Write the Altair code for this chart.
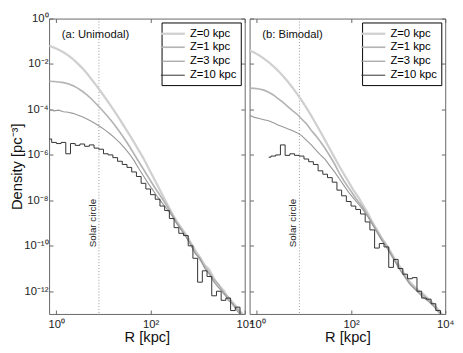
import altair as alt
import pandas as pd

# log10 of bin-centre radius R [kpc]
LOG_R = [-0.15, -0.05, 0.05, 0.15, 0.25, 0.35, 0.45, 0.55, 0.65, 0.75, 0.85, 0.95,
         1.05, 1.15, 1.25, 1.35, 1.45, 1.55, 1.65, 1.75, 1.85, 1.95,
         2.05, 2.15, 2.25, 2.35, 2.45, 2.55, 2.65, 2.75, 2.85, 2.95,
         3.05, 3.15, 3.25, 3.35, 3.45, 3.55, 3.65, 3.75, 3.85, 3.95, 4.05]

SERIES = ["Z=0 kpc", "Z=1 kpc", "Z=3 kpc", "Z=10 kpc"]

# log10 density [pc^-3], panel (a) Unimodal
UNI_Z0 = [-1.20, -1.28, -1.37, -1.48, -1.62, -1.78, -1.97, -2.18, -2.42, -2.68, -2.95, -3.23,
          -3.52, -3.82, -4.13, -4.45, -4.78, -5.11, -5.45, -5.80, -6.15, -6.55,
          -6.95, -7.35, -7.75, -8.15, -8.55, -8.90, -9.20, -9.50, -9.85, -10.20,
          -10.50, -10.85, -11.05, -11.45, -11.75, -11.95, -12.30, -12.50, -12.75, -13.00, -13.25]
UNI_Z1 = [-2.76, -2.77, -2.79, -2.82, -2.87, -2.95, -3.06, -3.20, -3.36, -3.55, -3.76, -3.98,
          -4.21, -4.45, -4.72, -5.00, -5.30, -5.62, -5.96, -6.30, -6.63, -6.97,
          -7.30, -7.62, -7.93, -8.25, -8.60, -8.95, -9.25, -9.55, -9.90, -10.30,
          -10.60, -10.90, -11.20, -11.50, -11.70, -12.10, -12.25, -12.60, -12.80, -13.05, -13.30]
UNI_Z3 = [-4.00, -4.06, -4.03, -4.10, -4.12, -4.17, -4.24, -4.32, -4.42, -4.53, -4.65, -4.78,
          -4.93, -5.09, -5.27, -5.47, -5.70, -5.95, -6.25, -6.60, -6.93, -7.25,
          -7.55, -7.85, -8.12, -8.38, -8.65, -9.00, -9.30, -9.60, -9.95, -10.35,
          -10.55, -11.00, -11.25, -11.60, -11.85, -12.05, -12.40, -12.55, -12.90, -13.10, -13.35]
UNI_Z10 = [-5.30, -5.45, -5.50, -5.45, -5.95, -5.50, -5.58, -5.52, -5.62, -5.56, -5.70, -5.75,
           -5.95, -6.00, -6.12, -6.28, -6.42, -6.55, -6.75, -6.95, -7.25, -7.50,
           -7.75, -7.95, -8.25, -8.45, -8.80, -9.20, -9.45, -9.55, -10.00, -10.55,
           -11.60, -11.10, -11.35, -12.20, -12.00, -12.40, -12.30, -12.85, -12.70, -13.20, -13.40]

# log10 density [pc^-3], panel (b) Bimodal
BI_Z0 = [-1.40, -1.50, -1.62, -1.76, -1.92, -2.10, -2.30, -2.52, -2.76, -3.02, -3.30, -3.60,
         -3.92, -4.26, -4.62, -4.98, -5.36, -5.74, -6.12, -6.50, -6.85, -7.20,
         -7.55, -7.85, -8.20, -8.55, -8.95, -9.30, -9.65, -9.95, -10.30, -10.65,
         -10.95, -11.30, -11.60, -11.80, -12.00, -12.15, -12.35, -12.55, -12.80, -13.05, -13.30]
BI_Z1 = [-3.06, -3.07, -3.10, -3.15, -3.24, -3.36, -3.52, -3.68, -3.86, -4.04, -4.20, -4.42,
         -4.62, -4.90, -5.15, -5.42, -5.72, -6.05, -6.40, -6.80, -7.15, -7.45,
         -7.75, -8.05, -8.30, -8.65, -9.00, -9.35, -9.70, -10.00, -10.35, -10.70,
         -11.05, -11.35, -11.65, -11.85, -12.05, -12.20, -12.40, -12.60, -12.85, -13.10, -13.35]
BI_Z3 = [-4.26, -4.35, -4.40, -4.45, -4.50, -4.58, -4.68, -4.76, -4.85, -4.93, -5.02, -5.15,
         -5.35, -5.55, -5.78, -6.00, -6.20, -6.48, -6.75, -7.05, -7.35, -7.65,
         -7.90, -8.15, -8.40, -8.70, -9.05, -9.40, -9.75, -10.05, -10.40, -10.75,
         -11.10, -11.40, -11.70, -11.90, -12.10, -12.30, -12.45, -12.65, -12.90, -13.15, -13.40]
BI_Z10 = [None, None, None, None, -6.10, -6.05, -6.00, -5.56, -6.02, -5.95, -6.02, -6.05,
          -6.18, -6.30, -6.42, -6.70, -6.85, -7.00, -7.20, -7.55, -7.80, -8.05,
          -8.25, -8.40, -8.60, -8.95, -9.30, -10.10, -9.90, -10.05, -10.95, -10.60,
          -11.00, -11.25, -11.45, -11.40, -12.00, -12.30, -12.35, -12.55, -12.85, -13.10, -13.40]

COLORS = ["#d0d0d0", "#b4b4b4", "#999999", "#303030"]
WIDTHS = [2.3, 1.7, 1.15, 1.0]

X_TICKS = [1, 100, 10000]
Y_TICKS = [1, 1e-2, 1e-4, 1e-6, 1e-8, 1e-10, 1e-12]
SOLAR_R = 8
PANEL_LABELS = ["(a: Unimodal)", "(b: Bimodal)"]

X_LABELS = "datum.value < 10 ? '10\u2070' : datum.value < 1000 ? '10\u00b2' : '10\u2074'"
Y_LABELS = ("datum.value > 0.1 ? '10\u2070' : datum.value > 1e-3 ? '10\u207b\u00b2' : "
            "datum.value > 1e-5 ? '10\u207b\u2074' : datum.value > 1e-7 ? '10\u207b\u2076' : "
            "datum.value > 1e-9 ? '10\u207b\u2078' : datum.value > 1e-11 ? '10\u207b\u00b9\u2070' : "
            "'10\u207b\u00b9\u00b2'")

FONT = "Liberation Sans"


def frame(series_values):
    rows = []
    for name, vals in zip(SERIES, series_values):
        for lr, v in zip(LOG_R, vals):
            if v is None:
                continue
            rows.append({"series": name, "R": 10 ** lr, "rho": 10 ** v})
    return pd.DataFrame(rows)


xscale = alt.Scale(type="log", domain=[0.7, 1e4])
yscale = alt.Scale(type="log", domain=[1e-13, 1])
cscale = alt.Scale(domain=SERIES, range=COLORS)
wscale = alt.Scale(type="ordinal", domain=SERIES, range=WIDTHS)


def legend():
    return alt.Legend(title=None, orient="top-right", offset=4, padding=4,
                      strokeColor="black", fillColor="white", symbolType="M-2,0L2,0",
                      symbolSize=150, labelFontSize=11.5, labelOffset=10, rowPadding=1.3,
                      labelFont=FONT, labelColor="black", cornerRadius=0)


def lines_layer(df, keep, interp, with_axes):
    if with_axes:
        x_axis = alt.Axis(orient="bottom", values=X_TICKS, labelExpr=X_LABELS, offset=-4,
                          tickSize=4, labelPadding=5, title="R [kpc]", titlePadding=0,
                          labelFlush=False)
        y_axis = with_axes
    else:
        x_axis = None
        y_axis = None
    return alt.Chart(df).transform_filter(
        alt.FieldOneOfPredicate(field="series", oneOf=keep)
    ).mark_line(interpolate=interp, clip=True).encode(
        x=alt.X("R:Q", scale=xscale, axis=x_axis),
        y=alt.Y("rho:Q", scale=yscale, axis=y_axis),
        color=alt.Color("series:N", scale=cscale, legend=legend()),
        strokeWidth=alt.StrokeWidth("series:N", scale=wscale, legend=legend()),
    )


def panel(df, label, show_ylabels):
    y_axis = alt.Axis(orient="left", values=Y_TICKS, labelExpr=Y_LABELS, offset=-4,
                      tickSize=4, labelPadding=1, labels=show_ylabels,
                      title="Density [pc\u207b\u00b3]" if show_ylabels else None,
                      titlePadding=0, labelFlush=False)
    light = lines_layer(df, SERIES[:3], "linear", y_axis)
    dark = lines_layer(df, SERIES[3:], "step", None)
    frame_ticks = alt.Chart(df).mark_point(opacity=0).encode(
        x=alt.X("R:Q", scale=xscale,
                axis=alt.Axis(orient="top", values=X_TICKS, labels=False, offset=-4,
                              tickSize=4, title=None)),
        y=alt.Y("rho:Q", scale=yscale,
                axis=alt.Axis(orient="right", values=Y_TICKS, labels=False, offset=-4,
                              tickSize=4, title=None)),
    )
    solar = pd.DataFrame({"R": [SOLAR_R], "rho": [1e-9], "text": ["Solar circle"]})
    rule = alt.Chart(solar).mark_rule(color="#8a8a8a", strokeDash=[1, 2], strokeWidth=0.9).encode(
        x=alt.X("R:Q", scale=xscale, axis=None)
    )
    solar_txt = alt.Chart(solar).mark_text(angle=270, align="center", baseline="bottom",
                                           fontSize=10, font=FONT, color="#222", dy=-1).encode(
        x=alt.X("R:Q", scale=xscale, axis=None),
        y=alt.Y("rho:Q", scale=yscale, axis=None),
        text="text:N",
    )
    lab = pd.DataFrame({"R": [1.3], "rho": [0.19], "text": [label]})
    lab_txt = alt.Chart(lab).mark_text(align="left", baseline="middle", fontSize=11.5,
                                       font=FONT, color="#111").encode(
        x=alt.X("R:Q", scale=xscale, axis=None),
        y=alt.Y("rho:Q", scale=yscale, axis=None),
        text="text:N",
    )
    return alt.layer(rule, light, dark, frame_ticks, solar_txt, lab_txt).resolve_axis(
        x="independent", y="independent"
    ).properties(width=200, height=302)


left = panel(frame([UNI_Z0, UNI_Z1, UNI_Z3, UNI_Z10]), PANEL_LABELS[0], True)
right = panel(frame([BI_Z0, BI_Z1, BI_Z3, BI_Z10]), PANEL_LABELS[1], False)

chart = alt.hconcat(left, right, spacing=5, bounds="flush").resolve_legend(
    color="independent", strokeWidth="independent"
).properties(
    padding={"left": 0, "top": 0, "right": 0, "bottom": 0},
    background="white",
).configure_view(
    stroke="#666666", strokeWidth=1
).configure_axis(
    domain=False, grid=False, tickColor="#666666", tickWidth=1,
    labelFont=FONT, labelFontSize=11.5, labelColor="#222222",
    titleFont=FONT, titleFontSize=15, titleFontWeight="normal", titleColor="#111111",
)

chart.save("out.html", embed_options={"renderer": "svg", "actions": False})
